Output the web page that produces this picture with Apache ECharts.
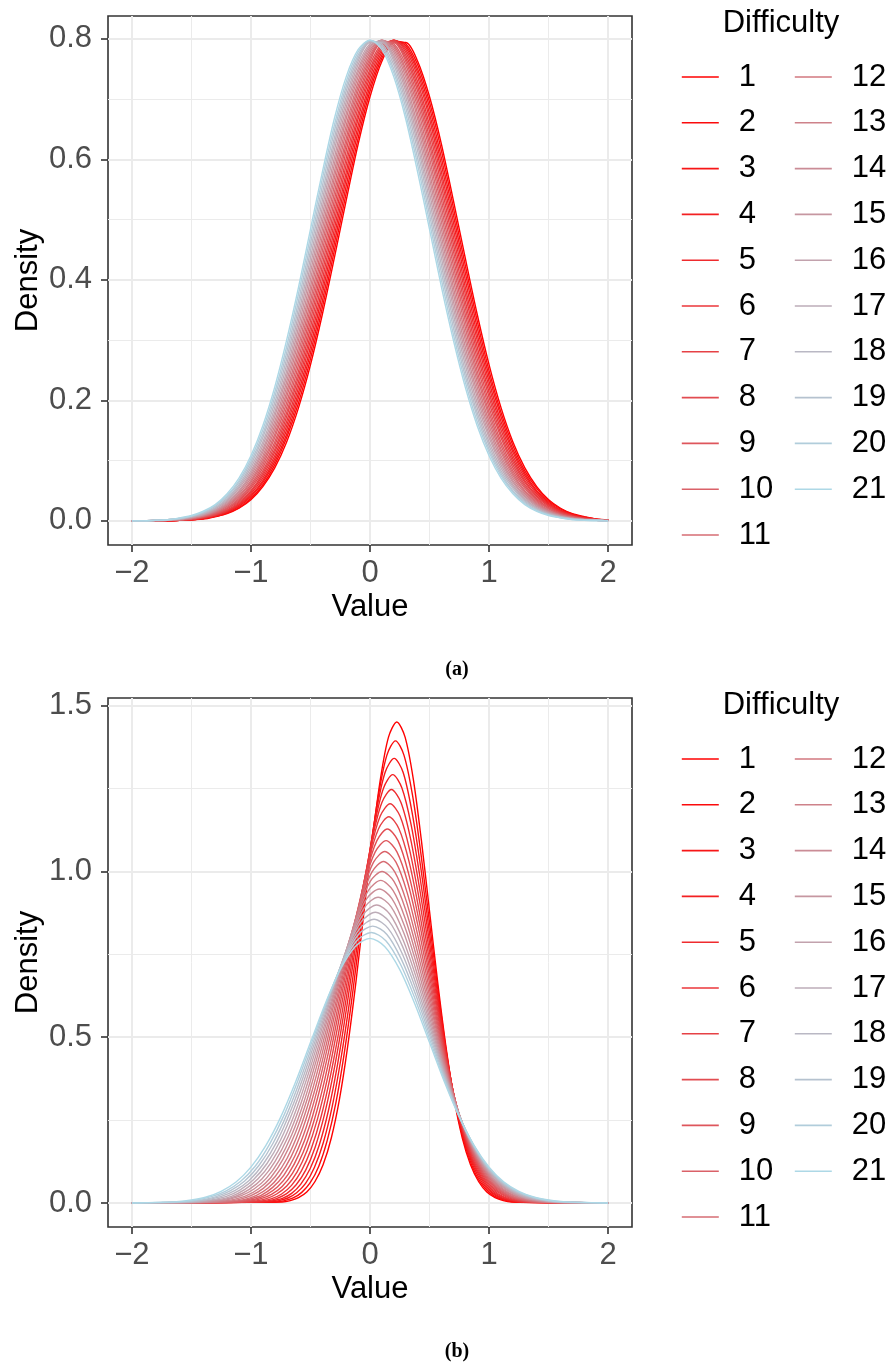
<!DOCTYPE html>
<html lang="en">
<head>
<meta charset="utf-8">
<title>Difficulty densities</title>
<style>
  html, body { margin: 0; padding: 0; background: #fff; }
  .panel { width: 890px; }
  #panelA { height: 682px; }
  #panelB { height: 683px; }
</style>
</head>
<body>
<div id="panelA" class="panel"></div>
<div id="panelB" class="panel"></div>
<script src="https://cdn.jsdelivr.net/npm/echarts@6/dist/echarts.min.js"></script>
<script>
// legend labels and line colours (red -> lightblue)
var difficulty = ['1','2','3','4','5','6','7','8','9','10','11','12','13','14','15','16','17','18','19','20','21'];
var lineColors = ['#FF0000','#FB0B0C','#F71617','#F32022','#EF2B2E','#EB363A','#E64145','#E24C51','#DE565C','#DA6168',
                  '#D66C73','#D2777F','#CE828A','#CA8C96','#C697A1','#C2A2AD','#BDADB8','#B9B8C4','#B5C2CF','#B1CDDB','#ADD8E6'];

// axis ticks
var xTicks = [-2, -1, 0, 1, 2];
var xMinorTicks = [-1.5, -0.5, 0.5, 1.5];
var yTicksA = [0, 0.2, 0.4, 0.6, 0.8];
var yMinorA = [0.1, 0.3, 0.5, 0.7];
var yTicksB = [0, 0.5, 1, 1.5];
var yMinorB = [0.25, 0.75, 1.25];

// panel (a): shared x grid, one density row per difficulty
var xGridA = [-2,-1.9,-1.8,-1.7,-1.6,-1.5,-1.4,-1.3,-1.2,-1.1,-1,-0.9,-0.8,-0.7,-0.6,-0.5,-0.4,-0.3,-0.2,-0.1,0,
              0.1,0.2,0.3,0.4,0.5,0.6,0.7,0.8,0.9,1,1.1,1.2,1.3,1.4,1.5,1.6,1.7,1.8,1.9,2];
var densityA = [
  [0,0,0,0,.001,.002,.003,.007,.012,.021,.035,.057,.088,.131,.188,.259,.343,.436,.532,.625,.704,.763,.794,.794,.763,.704,.625,.532,.436,.343,.259,.188,.131,.088,.057,.035,.021,.012,.007,.003,.002],
  [0,0,0,0,.001,.002,.004,.007,.013,.022,.037,.060,.093,.138,.196,.269,.354,.448,.544,.635,.713,.768,.796,.792,.757,.695,.614,.520,.424,.332,.249,.180,.125,.083,.054,.033,.020,.011,.006,.003,.002],
  [0,0,0,0,.001,.002,.004,.008,.014,.024,.040,.064,.098,.144,.205,.279,.365,.460,.556,.646,.721,.773,.797,.789,.750,.686,.602,.508,.412,.321,.240,.173,.119,.079,.050,.031,.018,.010,.006,.003,.001],
  [0,0,0,0,.001,.002,.004,.008,.015,.026,.042,.067,.103,.151,.213,.289,.377,.472,.568,.656,.729,.778,.798,.786,.744,.676,.591,.496,.400,.310,.231,.165,.114,.075,.048,.029,.017,.010,.005,.003,.001],
  [0,0,0,0,.001,.002,.005,.009,.016,.027,.045,.071,.108,.158,.222,.300,.388,.484,.579,.667,.737,.782,.798,.782,.737,.667,.579,.484,.388,.300,.222,.158,.108,.071,.045,.027,.016,.009,.005,.002,.001],
  [0,0,0,.001,.001,.003,.005,.010,.017,.029,.048,.075,.114,.165,.231,.310,.400,.496,.591,.676,.744,.786,.798,.778,.729,.656,.568,.472,.377,.289,.213,.151,.103,.067,.042,.026,.015,.008,.004,.002,.001],
  [0,0,0,.001,.001,.003,.006,.010,.018,.031,.050,.079,.119,.173,.240,.321,.412,.508,.602,.686,.750,.789,.797,.773,.721,.646,.556,.460,.365,.279,.205,.144,.098,.064,.040,.024,.014,.008,.004,.002,.001],
  [0,0,0,.001,.002,.003,.006,.011,.020,.033,.054,.083,.125,.180,.249,.332,.424,.520,.614,.695,.757,.792,.796,.768,.713,.635,.544,.448,.354,.269,.196,.138,.093,.060,.037,.022,.013,.007,.004,.002,.001],
  [0,0,0,.001,.002,.003,.007,.012,.021,.035,.057,.088,.131,.188,.259,.343,.436,.532,.625,.704,.763,.794,.794,.763,.704,.625,.532,.436,.343,.259,.188,.131,.088,.057,.035,.021,.012,.007,.003,.002,.001],
  [0,0,0,.001,.002,.004,.007,.013,.022,.037,.060,.093,.138,.196,.269,.354,.448,.544,.635,.713,.768,.796,.792,.757,.695,.614,.520,.424,.332,.249,.180,.125,.083,.054,.033,.020,.011,.006,.003,.002,.001],
  [0,0,0,.001,.002,.004,.008,.014,.024,.040,.064,.098,.144,.205,.279,.365,.460,.556,.646,.721,.773,.797,.789,.750,.686,.602,.508,.412,.321,.240,.173,.119,.079,.050,.031,.018,.010,.006,.003,.001,.001],
  [0,0,0,.001,.002,.004,.008,.015,.026,.042,.067,.103,.151,.213,.289,.377,.472,.568,.656,.729,.778,.798,.786,.744,.676,.591,.496,.400,.310,.231,.165,.114,.075,.048,.029,.017,.010,.005,.003,.001,.001],
  [0,0,0,.001,.002,.005,.009,.016,.027,.045,.071,.108,.158,.222,.300,.388,.484,.579,.667,.737,.782,.798,.782,.737,.667,.579,.484,.388,.300,.222,.158,.108,.071,.045,.027,.016,.009,.005,.002,.001,0],
  [0,0,.001,.001,.003,.005,.010,.017,.029,.048,.075,.114,.165,.231,.310,.400,.496,.591,.676,.744,.786,.798,.778,.729,.656,.568,.472,.377,.289,.213,.151,.103,.067,.042,.026,.015,.008,.004,.002,.001,0],
  [0,0,.001,.001,.003,.006,.010,.018,.031,.050,.079,.119,.173,.240,.321,.412,.508,.602,.686,.750,.789,.797,.773,.721,.646,.556,.460,.365,.279,.205,.144,.098,.064,.040,.024,.014,.008,.004,.002,.001,0],
  [0,0,.001,.002,.003,.006,.011,.020,.033,.054,.083,.125,.180,.249,.332,.424,.520,.614,.695,.757,.792,.796,.768,.713,.635,.544,.448,.354,.269,.196,.138,.093,.060,.037,.022,.013,.007,.004,.002,.001,0],
  [0,0,.001,.002,.003,.007,.012,.021,.035,.057,.088,.131,.188,.259,.343,.436,.532,.625,.704,.763,.794,.794,.763,.704,.625,.532,.436,.343,.259,.188,.131,.088,.057,.035,.021,.012,.007,.003,.002,.001,0],
  [0,0,.001,.002,.004,.007,.013,.022,.037,.060,.093,.138,.196,.269,.354,.448,.544,.635,.713,.768,.796,.792,.757,.695,.614,.520,.424,.332,.249,.180,.125,.083,.054,.033,.020,.011,.006,.003,.002,.001,0],
  [0,0,.001,.002,.004,.008,.014,.024,.040,.064,.098,.144,.205,.279,.365,.460,.556,.646,.721,.773,.797,.789,.750,.686,.602,.508,.412,.321,.240,.173,.119,.079,.050,.031,.018,.010,.006,.003,.001,.001,0],
  [0,0,.001,.002,.004,.008,.015,.026,.042,.067,.103,.151,.213,.289,.377,.472,.568,.656,.729,.778,.798,.786,.744,.676,.591,.496,.400,.310,.231,.165,.114,.075,.048,.029,.017,.010,.005,.003,.001,.001,0],
  [0,0,.001,.002,.005,.009,.016,.027,.045,.071,.108,.158,.222,.300,.388,.484,.579,.667,.737,.782,.798,.782,.737,.667,.579,.484,.388,.300,.222,.158,.108,.071,.045,.027,.016,.009,.005,.002,.001,0,0]
];

// panel (b): each curve has its own x positions and densities
var valueB = [
  [-2,-.738,-.669,-.6,-.531,-.463,-.394,-.325,-.256,-.188,-.119,-.05,.019,.088,.156,.225,.294,.363,.431,.5,.569,.638,.706,.775,.844,.913,.981,1.05,1.119,1.188,2],
  [-2,-.788,-.717,-.645,-.573,-.502,-.430,-.359,-.287,-.216,-.144,-.073,-.001,.071,.142,.214,.285,.357,.428,.5,.572,.643,.715,.786,.858,.929,1.001,1.073,1.144,1.216,2],
  [-2,-.839,-.764,-.690,-.616,-.541,-.467,-.393,-.318,-.244,-.169,-.095,-.021,.054,.128,.203,.277,.351,.426,.5,.574,.649,.723,.798,.872,.946,1.021,1.095,1.169,1.244,2],
  [-2,-.889,-.812,-.735,-.658,-.581,-.503,-.426,-.349,-.272,-.195,-.118,-.040,.037,.114,.191,.268,.346,.423,.5,.577,.654,.732,.809,.886,.963,1.040,1.118,1.195,1.272,2],
  [-2,-.94,-.86,-.78,-.70,-.62,-.54,-.46,-.38,-.30,-.22,-.14,-.06,.02,.10,.18,.26,.34,.42,.5,.58,.66,.74,.82,.90,.98,1.06,1.14,1.22,1.30,2],
  [-2,-.991,-.908,-.825,-.742,-.659,-.577,-.494,-.411,-.328,-.245,-.163,-.080,.003,.086,.169,.252,.334,.417,.5,.583,.666,.748,.831,.914,.997,1.080,1.163,1.245,1.328,2],
  [-2,-1.041,-.956,-.870,-.784,-.699,-.613,-.528,-.442,-.356,-.271,-.185,-.099,-.014,.072,.158,.243,.329,.414,.5,.586,.671,.757,.843,.928,1.014,1.099,1.185,1.271,1.356,2],
  [-2,-1.092,-1.003,-.915,-.827,-.738,-.650,-.561,-.473,-.384,-.296,-.208,-.119,-.031,.058,.146,.235,.323,.412,.5,.588,.677,.765,.854,.942,1.031,1.119,1.208,1.296,1.384,2],
  [-2,-1.143,-1.051,-.96,-.869,-.778,-.686,-.595,-.504,-.413,-.321,-.23,-.139,-.048,.044,.135,.226,.318,.409,.5,.591,.683,.774,.865,.956,1.048,1.139,1.23,1.321,1.413,2],
  [-2,-1.193,-1.099,-1.005,-.911,-.817,-.723,-.629,-.535,-.441,-.347,-.253,-.158,-.064,.030,.124,.218,.312,.406,.5,.594,.688,.782,.876,.970,1.064,1.158,1.253,1.347,1.441,2],
  [-2,-1.244,-1.147,-1.05,-.953,-.856,-.759,-.663,-.566,-.469,-.372,-.275,-.178,-.081,.016,.113,.209,.306,.403,.5,.597,.694,.791,.888,.984,1.081,1.178,1.275,1.372,1.469,2],
  [-2,-1.294,-1.195,-1.095,-.995,-.896,-.796,-.696,-.597,-.497,-.397,-.298,-.198,-.098,.002,.101,.201,.301,.400,.5,.600,.699,.799,.899,.998,1.098,1.198,1.298,1.397,1.497,2],
  [-2,-1.345,-1.243,-1.14,-1.038,-.935,-.833,-.73,-.628,-.525,-.423,-.32,-.218,-.115,-.013,.09,.193,.295,.398,.5,.603,.705,.808,.91,1.013,1.115,1.218,1.32,1.423,1.525,2],
  [-2,-1.396,-1.290,-1.185,-1.080,-.974,-.869,-.764,-.658,-.553,-.448,-.343,-.237,-.132,-.027,.079,.184,.289,.395,.5,.605,.711,.816,.921,1.027,1.132,1.237,1.343,1.448,1.553,2],
  [-2,-1.446,-1.338,-1.23,-1.122,-1.014,-.906,-.798,-.689,-.581,-.473,-.365,-.257,-.149,-.041,.068,.176,.284,.392,.5,.608,.716,.824,.933,1.041,1.149,1.257,1.365,1.473,1.581,2],
  [-2,-1.497,-1.386,-1.275,-1.164,-1.053,-.942,-.831,-.720,-.609,-.498,-.388,-.277,-.166,-.055,.056,.167,.278,.389,.5,.611,.722,.833,.944,1.055,1.166,1.277,1.388,1.498,1.609,2],
  [-2,-1.548,-1.434,-1.32,-1.206,-1.093,-.979,-.865,-.751,-.638,-.524,-.41,-.296,-.183,-.069,.045,.159,.273,.386,.5,.614,.728,.841,.955,1.069,1.183,1.296,1.41,1.524,1.638,2],
  [-2,-1.598,-1.482,-1.365,-1.248,-1.132,-1.015,-.899,-.782,-.666,-.549,-.433,-.316,-.199,-.083,.034,.150,.267,.384,.5,.617,.733,.850,.966,1.083,1.199,1.316,1.433,1.549,1.666,2],
  [-2,-1.649,-1.529,-1.41,-1.291,-1.171,-1.052,-.933,-.813,-.694,-.574,-.455,-.336,-.216,-.097,.023,.142,.261,.381,.5,.619,.739,.858,.978,1.097,1.216,1.336,1.455,1.574,1.694,2],
  [-2,-1.699,-1.577,-1.455,-1.333,-1.211,-1.088,-.966,-.844,-.722,-.600,-.478,-.355,-.233,-.111,.011,.133,.256,.378,.5,.622,.744,.867,.989,1.111,1.233,1.355,1.478,1.600,1.722,2],
  [-2,-1.75,-1.625,-1.5,-1.375,-1.25,-1.125,-1,-.875,-.75,-.625,-.5,-.375,-.25,-.125,0,.125,.25,.375,.5,.625,.75,.875,1,1.125,1.25,1.375,1.5,1.625,1.75,2]
];
var densityB = [
  [0,.003,.007,.016,.033,.064,.115,.196,.314,.471,.664,.880,1.095,1.280,1.406,1.451,1.406,1.280,1.095,.880,.664,.471,.314,.196,.115,.064,.033,.016,.007,.003,0],
  [0,.003,.007,.015,.032,.061,.111,.189,.301,.452,.638,.845,1.052,1.230,1.351,1.394,1.351,1.230,1.052,.845,.638,.452,.301,.189,.111,.061,.032,.015,.007,.003,0],
  [0,.003,.007,.015,.031,.059,.107,.181,.290,.435,.614,.813,1.012,1.183,1.300,1.341,1.300,1.183,1.012,.813,.614,.435,.290,.181,.107,.059,.031,.015,.007,.003,0],
  [0,.003,.007,.014,.029,.057,.103,.175,.279,.419,.592,.784,.975,1.140,1.252,1.292,1.252,1.140,.975,.784,.592,.419,.279,.175,.103,.057,.029,.014,.007,.003,0],
  [0,.003,.006,.014,.028,.055,.099,.169,.270,.405,.571,.756,.941,1.100,1.208,1.247,1.208,1.100,.941,.756,.571,.405,.270,.169,.099,.055,.028,.014,.006,.003,0],
  [0,.003,.006,.013,.027,.053,.096,.163,.260,.391,.551,.730,.909,1.063,1.167,1.204,1.167,1.063,.909,.730,.551,.391,.260,.163,.096,.053,.027,.013,.006,.003,0],
  [0,.003,.006,.013,.027,.051,.093,.158,.252,.378,.533,.706,.879,1.028,1.129,1.165,1.129,1.028,.879,.706,.533,.378,.252,.158,.093,.051,.027,.013,.006,.003,0],
  [0,.002,.006,.013,.026,.050,.090,.153,.244,.366,.516,.684,.851,.995,1.093,1.128,1.093,.995,.851,.684,.516,.366,.244,.153,.090,.050,.026,.013,.006,.002,0],
  [0,.002,.006,.012,.025,.048,.087,.148,.236,.355,.500,.663,.825,.965,1.059,1.093,1.059,.965,.825,.663,.500,.355,.236,.148,.087,.048,.025,.012,.006,.002,0],
  [0,.002,.005,.012,.024,.047,.084,.143,.229,.344,.485,.643,.800,.936,1.028,1.060,1.028,.936,.800,.643,.485,.344,.229,.143,.084,.047,.024,.012,.005,.002,0],
  [0,.002,.005,.011,.023,.045,.082,.139,.223,.334,.471,.624,.777,.909,.998,1.030,.998,.909,.777,.624,.471,.334,.223,.139,.082,.045,.023,.011,.005,.002,0],
  [0,.002,.005,.011,.023,.044,.080,.135,.216,.325,.458,.607,.755,.883,.970,1.000,.970,.883,.755,.607,.458,.325,.216,.135,.080,.044,.023,.011,.005,.002,0],
  [0,.002,.005,.011,.022,.043,.077,.132,.210,.316,.445,.590,.734,.859,.943,.973,.943,.859,.734,.590,.445,.316,.210,.132,.077,.043,.022,.011,.005,.002,0],
  [0,.002,.005,.011,.022,.042,.075,.128,.205,.307,.434,.574,.715,.836,.918,.947,.918,.836,.715,.574,.434,.307,.205,.128,.075,.042,.022,.011,.005,.002,0],
  [0,.002,.005,.010,.021,.041,.073,.125,.199,.299,.422,.559,.696,.814,.894,.922,.894,.814,.696,.559,.422,.299,.199,.125,.073,.041,.021,.010,.005,.002,0],
  [0,.002,.005,.010,.020,.040,.072,.122,.194,.292,.412,.545,.679,.793,.871,.899,.871,.793,.679,.545,.412,.292,.194,.122,.072,.040,.020,.010,.005,.002,0],
  [0,.002,.004,.010,.020,.039,.070,.119,.190,.285,.401,.532,.662,.774,.850,.877,.850,.774,.662,.532,.401,.285,.190,.119,.070,.039,.020,.010,.004,.002,0],
  [0,.002,.004,.010,.020,.038,.068,.116,.185,.278,.392,.519,.646,.755,.829,.856,.829,.755,.646,.519,.392,.278,.185,.116,.068,.038,.020,.010,.004,.002,0],
  [0,.002,.004,.009,.019,.037,.066,.113,.181,.271,.383,.507,.631,.737,.810,.835,.810,.737,.631,.507,.383,.271,.181,.113,.066,.037,.019,.009,.004,.002,0],
  [0,.002,.004,.009,.019,.036,.065,.110,.177,.265,.374,.495,.616,.720,.791,.816,.791,.720,.616,.495,.374,.265,.177,.110,.065,.036,.019,.009,.004,.002,0],
  [0,.002,.004,.009,.018,.035,.063,.108,.173,.259,.365,.484,.602,.704,.773,.798,.773,.704,.602,.484,.365,.259,.173,.108,.063,.035,.018,.009,.004,.002,0]
];

var FONT = '"Liberation Sans", Arial, Helvetica, sans-serif';
var TICK_COLOR = '#4D4D4D';
var GRID_COLOR = '#EBEBEB';
var FRAME_COLOR = '#333333';

function fmtX(v) {
    return v < 0 ? '\u2212' + Math.abs(v) : String(v);
}

function makeSeries(xs, ys, width) {
    return difficulty.map(function (name, k) {
        var pts = xs[k].map(function (x, i) { return [x, ys[k][i]]; });
        return {
            name: name,
            type: 'line',
            data: pts,
            color: lineColors[k],
            symbol: 'none',
            showSymbol: false,
            smooth: 0.3,
            silent: true,
            lineStyle: { width: width, color: lineColors[k] },
            emphasis: { disabled: true }
        };
    });
}

function makeLegend(names, left) {
    return {
        data: names,
        orient: 'vertical',
        left: left,
        top: 61.5,
        padding: 0,
        itemWidth: 37,
        itemHeight: 31,
        itemGap: 14.8,
        selectedMode: false,
        itemStyle: { opacity: 0 },
        lineStyle: { width: 1.6 },
        textStyle: { fontFamily: FONT, fontSize: 31, lineHeight: 31, color: '#000', padding: [0, 0, 0, 15] }
    };
}

function panelOption(p) {
    return {
        animation: false,
        backgroundColor: '#ffffff',
        textStyle: { fontFamily: FONT },
        grid: { left: 108, top: 16, width: 524, height: 529, show: true,
                borderColor: FRAME_COLOR, borderWidth: 1.6, backgroundColor: 'transparent',
                outerBoundsMode: 'none' },
        xAxis: [{
            type: 'value', min: -2.2, max: 2.2, position: 'bottom',
            name: 'Value', nameLocation: 'middle', nameGap: 47, nameMoveOverlap: false,
            nameTextStyle: { fontFamily: FONT, fontSize: 31, color: '#000' },
            axisLine: { show: false, onZero: false },
            axisTick: { show: true, customValues: xTicks, length: 7, lineStyle: { color: FRAME_COLOR, width: 1.6 } },
            axisLabel: { customValues: xTicks, formatter: fmtX, color: TICK_COLOR, fontFamily: FONT, fontSize: 31, margin: 13 },
            splitLine: { show: true, lineStyle: { color: GRID_COLOR, width: 2 } }
        }, {
            type: 'value', min: -2.2, max: 2.2, position: 'bottom',
            axisLine: { show: false, onZero: false },
            axisTick: { show: false, customValues: xMinorTicks },
            axisLabel: { show: false, customValues: xMinorTicks },
            splitLine: { show: true, lineStyle: { color: GRID_COLOR, width: 1 } }
        }],
        yAxis: [{
            type: 'value', min: p.yMin, max: p.yMax, position: 'left',
            name: 'Density', nameLocation: 'middle', nameGap: 64, nameMoveOverlap: false,
            nameTextStyle: { fontFamily: FONT, fontSize: 31, color: '#000' },
            axisLine: { show: false, onZero: false },
            axisTick: { show: true, customValues: p.yTicks, length: 7, lineStyle: { color: FRAME_COLOR, width: 1.6 } },
            axisLabel: { customValues: p.yTicks, formatter: function (v) { return v.toFixed(1); },
                         color: TICK_COLOR, fontFamily: FONT, fontSize: 31, margin: 16 },
            splitLine: { show: true, lineStyle: { color: GRID_COLOR, width: 2 } }
        }, {
            type: 'value', min: p.yMin, max: p.yMax, position: 'left',
            axisLine: { show: false, onZero: false },
            axisTick: { show: false, customValues: p.yMinor },
            axisLabel: { show: false, customValues: p.yMinor },
            splitLine: { show: true, lineStyle: { color: GRID_COLOR, width: 1 } }
        }],
        legend: [makeLegend(difficulty.slice(0, 11), 681), makeLegend(difficulty.slice(11), 794)],
        graphic: [{
            type: 'text', x: 781, y: 23, silent: true,
            style: { text: 'Difficulty', fill: '#000', align: 'center', verticalAlign: 'middle',
                     font: 'normal 31px ' + FONT }
        }, {
            type: 'text', x: 457, y: 670, silent: true,
            style: { text: p.caption, fill: '#000', align: 'center', verticalAlign: 'middle',
                     font: 'bold 20px "Liberation Serif", "Times New Roman", serif' }
        }],
        series: p.series
    };
}

var chartA = echarts.init(document.getElementById('panelA'), null, { renderer: 'canvas' });
chartA.setOption(panelOption({
    yMin: -0.04, yMax: 0.838, yTicks: yTicksA, yMinor: yMinorA, caption: '(a)',
    series: makeSeries(difficulty.map(function () { return xGridA; }), densityA, 1.4)
}));

var chartB = echarts.init(document.getElementById('panelB'), null, { renderer: 'canvas' });
chartB.setOption(panelOption({
    yMin: -0.0725, yMax: 1.5232, yTicks: yTicksB, yMinor: yMinorB, caption: '(b)',
    series: makeSeries(valueB, densityB, 1.4)
}));

window.addEventListener('resize', function () {
    chartA.resize();
    chartB.resize();
});
</script>
</body>
</html>
